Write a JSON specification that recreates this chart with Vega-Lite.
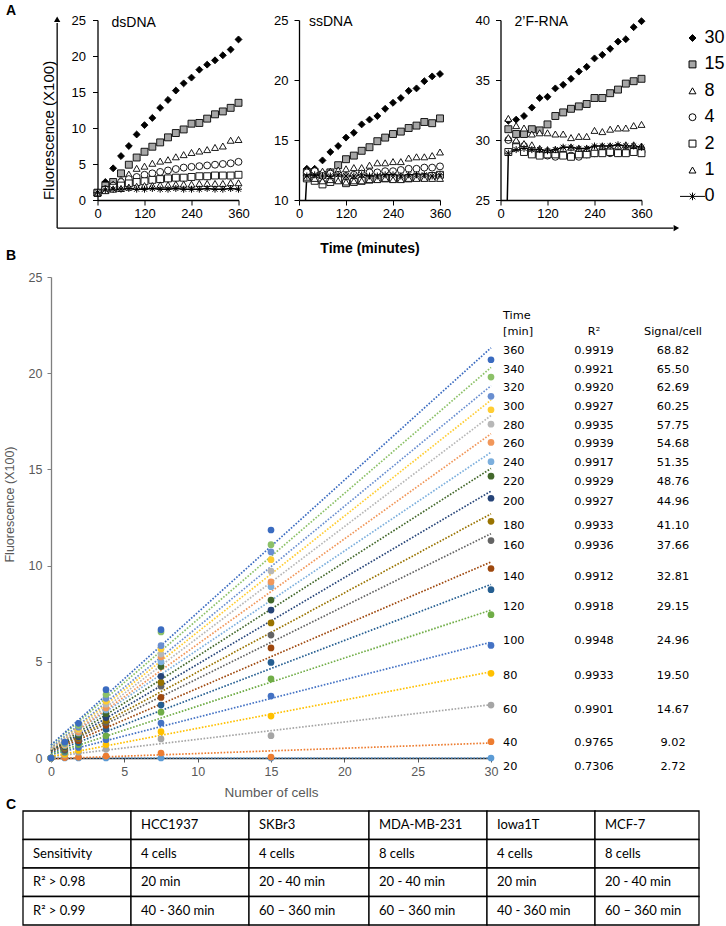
{
"$schema":"https://vega.github.io/schema/vega-lite/v6.json",
"background":"white",
"padding":{"left":3,"top":3,"right":0,"bottom":0},
"config":{"view":{"stroke":null},"font":"Liberation Sans","axis":{"grid":false,"labelOverlap":false,"labelFlush":false},"title":{"font":"Liberation Sans","fontSize":14,"fontWeight":"bold","color":"black","anchor":"start","frame":"group"}},
"datasets":{
"A":[
{"p":"ds","c":"30","t":[0,20,40,60,80,100,120,140,160,180,200,220,240,260,280,300,320,340,360],"v":[1.0,2.5,4.4,6.1,7.5,9.1,10.4,11.4,12.8,13.9,15.2,16.2,17.0,18.1,18.8,19.4,20.1,20.9,22.3]},
{"p":"ds","c":"15","t":[0,20,40,60,80,100,120,140,160,180,200,220,240,260,280,300,320,340,360],"v":[1.0,2.0,2.5,3.7,4.9,5.9,6.7,7.4,8.0,8.7,9.3,9.8,10.6,10.7,11.3,11.9,12.3,12.8,13.5]},
{"p":"ds","c":"8","t":[0,20,40,60,80,100,120,140,160,180,200,220,240,260,280,300,320,340,360],"v":[1.0,1.6,2.2,2.9,3.6,4.4,4.7,5.1,5.4,5.6,6.0,6.3,6.6,6.8,7.0,7.3,7.5,8.3,8.4]},
{"p":"ds","c":"4","t":[0,20,40,60,80,100,120,140,160,180,200,220,240,260,280,300,320,340,360],"v":[1.0,1.5,2.0,2.5,2.9,3.2,3.5,3.7,3.9,4.1,4.3,4.5,4.6,4.7,4.8,4.9,5.0,5.1,5.3]},
{"p":"ds","c":"2","t":[0,20,40,60,80,100,120,140,160,180,200,220,240,260,280,300,320,340,360],"v":[1.0,1.4,1.7,2.0,2.3,2.5,2.6,2.8,2.9,3.0,3.1,3.1,3.2,3.3,3.3,3.4,3.4,3.4,3.5]},
{"p":"ds","c":"1","t":[0,20,40,60,80,100,120,140,160,180,200,220,240,260,280,300,320,340,360],"v":[1.0,1.3,1.5,1.6,1.8,1.9,2.0,2.0,2.1,2.1,2.2,2.2,2.2,2.3,2.3,2.3,2.3,2.4,2.4]},
{"p":"ds","c":"0","t":[0,20,40,60,80,100,120,140,160,180,200,220,240,260,280,300,320,340,360],"v":[1.0,1.4,1.5,1.5,1.6,1.5,1.5,1.6,1.5,1.5,1.6,1.5,1.5,1.5,1.6,1.5,1.5,1.6,1.5]},
{"p":"ss","c":"30","t":[20,40,60,80,100,120,140,160,180,200,220,240,260,280,300,320,340,360],"v":[12.6,12.6,13.3,14.0,14.5,15.2,15.6,16.3,16.7,17.0,17.6,18.1,18.5,19.1,19.3,19.9,20.3,20.5]},
{"p":"ss","c":"15","t":[20,40,60,80,100,120,140,160,180,200,220,240,260,280,300,320,340,360],"v":[12.3,12.3,12.1,12.3,12.9,13.4,13.7,14.1,14.4,14.9,15.2,15.5,15.7,16.0,16.2,16.5,16.4,16.8]},
{"p":"ss","c":"8","t":[20,40,60,80,100,120,140,160,180,200,220,240,260,280,300,320,340,360],"v":[12.5,12.3,12.4,12.4,12.5,12.6,12.7,12.7,12.9,13.1,13.1,13.2,13.2,13.5,13.6,13.6,13.7,14.0]},
{"p":"ss","c":"4","t":[20,40,60,80,100,120,140,160,180,200,220,240,260,280,300,320,340,360],"v":[12.3,12.4,12.0,12.2,12.1,12.0,12.1,12.2,12.3,12.3,12.4,12.4,12.5,12.6,12.6,12.7,12.7,12.8]},
{"p":"ss","c":"2","t":[20,40,60,80,100,120,140,160,180,200,220,240,260,280,300,320,340,360],"v":[11.8,11.6,11.3,11.5,11.7,11.4,11.5,11.6,11.7,11.8,11.8,11.8,11.8,11.8,11.9,11.9,12.0,12.1]},
{"p":"ss","c":"1","t":[20,40,60,80,100,120,140,160,180,200,220,240,260,280,300,320,340,360],"v":[11.9,11.8,11.6,11.7,11.6,11.5,11.6,11.6,11.7,11.7,11.8,11.7,11.7,11.8,11.8,11.8,11.8,11.8]},
{"p":"ss","c":"0","t":[0,20,40,60,80,100,120,140,160,180,200,220,240,260,280,300,320,340,360],"v":[0,12.0,12.1,12.0,12.0,12.1,12.0,12.0,12.1,12.0,12.0,12.1,12.1,12.0,12.1,12.1,12.1,12.0,12.1]},
{"p":"rna","c":"30","t":[20,40,60,80,100,120,140,160,180,200,220,240,260,280,300,320,340,360],"v":[31.6,31.7,32.0,32.7,33.5,33.6,34.3,34.6,35.1,35.7,36.1,36.8,37.1,37.6,38.2,38.4,39.4,39.9]},
{"p":"rna","c":"15","t":[20,40,60,80,100,120,140,160,180,200,220,240,260,280,300,320,340,360],"v":[30.9,30.5,30.5,30.9,30.8,31.3,32.0,32.3,32.6,32.8,33.0,33.5,33.5,33.9,34.2,34.7,34.9,35.1]},
{"p":"rna","c":"8","t":[20,40,60,80,100,120,140,160,180,200,220,240,260,280,300,320,340,360],"v":[31.8,31.2,31.0,30.5,30.6,30.6,30.5,30.5,30.2,30.3,30.3,30.8,30.7,30.9,31.0,31.0,31.2,31.3]},
{"p":"rna","c":"4","t":[20,40,60,80,100,120,140,160,180,200,220,240,260,280,300,320,340,360],"v":[30.0,29.7,29.5,29.2,28.9,28.7,28.6,28.8,28.7,28.6,28.8,28.9,29.0,28.9,28.9,29.0,29.1,29.0]},
{"p":"rna","c":"2","t":[20,40,60,80,100,120,140,160,180,200,220,240,260,280,300,320,340,360],"v":[29.0,29.4,29.0,28.8,28.7,28.8,28.8,28.7,28.6,28.8,28.8,28.9,28.9,29.0,28.9,28.9,29.0,28.9]},
{"p":"rna","c":"1","t":[20,40,60,80,100,120,140,160,180,200,220,240,260,280,300,320,340,360],"v":[30.2,30.0,29.7,29.6,29.3,29.2,29.2,29.3,29.4,29.3,29.3,29.4,29.5,29.5,29.5,29.6,29.6,29.5]},
{"p":"rna","c":"0","t":[0,20,40,60,80,100,120,140,160,180,200,220,240,260,280,300,320,340,360],"v":[0,28.9,29.2,29.3,29.2,29.2,29.1,29.2,29.4,29.4,29.3,29.3,29.5,29.5,29.5,29.6,29.5,29.5,29.4]}
],
"Bpts":[
{"t":"0","n":[0,0.9375,1.875,3.75,7.5,15,30],"v":[0,0,0,0,0,0,0]},
{"t":"20","n":[0,0.9375,1.875,3.75,7.5,15,30],"v":[0,0.02,0.05,0.1,0.26,0.05,0.85]},
{"t":"40","n":[0,0.9375,1.875,3.75,7.5,15,30],"v":[0,0.15,0.3,0.45,0.99,1.16,2.75]},
{"t":"60","n":[0,0.9375,1.875,3.75,7.5,15,30],"v":[0,0.2,0.4,0.7,1.37,2.18,4.4]},
{"t":"80","n":[0,0.9375,1.875,3.75,7.5,15,30],"v":[0,0.3,0.55,0.95,1.82,3.22,5.85]},
{"t":"100","n":[0,0.9375,1.875,3.75,7.5,15,30],"v":[0,0.35,0.7,1.15,2.38,4.11,7.45]},
{"t":"120","n":[0,0.9375,1.875,3.75,7.5,15,30],"v":[0,0.4,0.8,1.5,2.75,4.97,8.75]},
{"t":"140","n":[0,0.9375,1.875,3.75,7.5,15,30],"v":[0,0.45,0.9,1.7,3.15,5.72,9.85]},
{"t":"160","n":[0,0.9375,1.875,3.75,7.5,15,30],"v":[0,0.5,1.0,1.85,3.73,6.39,11.3]},
{"t":"180","n":[0,0.9375,1.875,3.75,7.5,15,30],"v":[0,0.55,1.05,1.95,3.93,7.02,12.3]},
{"t":"200","n":[0,0.9375,1.875,3.75,7.5,15,30],"v":[0,0.6,1.1,2.1,4.25,7.69,13.5]},
{"t":"220","n":[0,0.9375,1.875,3.75,7.5,15,30],"v":[0,0.62,1.2,2.3,4.75,8.21,14.65]},
{"t":"240","n":[0,0.9375,1.875,3.75,7.5,15,30],"v":[0,0.65,1.3,2.5,5.0,8.9,15.4]},
{"t":"260","n":[0,0.9375,1.875,3.75,7.5,15,30],"v":[0,0.68,1.35,2.6,5.25,9.15,16.4]},
{"t":"280","n":[0,0.9375,1.875,3.75,7.5,15,30],"v":[0,0.7,1.45,2.8,5.4,9.72,17.35]},
{"t":"300","n":[0,0.9375,1.875,3.75,7.5,15,30],"v":[0,0.72,1.5,2.95,5.67,10.31,18.1]},
{"t":"320","n":[0,0.9375,1.875,3.75,7.5,15,30],"v":[0,0.75,1.6,3.1,5.84,10.71,18.8]},
{"t":"340","n":[0,0.9375,1.875,3.75,7.5,15,30],"v":[0,0.78,1.7,3.3,6.55,11.09,19.8]},
{"t":"360","n":[0,0.9375,1.875,3.75,7.5,15,30],"v":[0,0.82,1.8,3.55,6.67,11.85,20.7]}
],
"Blines":[
{"t":"0","n":[0,30],"v":[0,0]},
{"t":"20","n":[0,30],"v":[-0.04,0.78]},
{"t":"40","n":[0,30],"v":[0.07,2.77]},
{"t":"60","n":[0,30],"v":[0.08,4.48]},
{"t":"80","n":[0,30],"v":[0.17,6.02]},
{"t":"100","n":[0,30],"v":[0.2,7.69]},
{"t":"120","n":[0,30],"v":[0.28,9.02]},
{"t":"140","n":[0,30],"v":[0.34,10.19]},
{"t":"160","n":[0,30],"v":[0.36,11.66]},
{"t":"180","n":[0,30],"v":[0.36,12.69]},
{"t":"200","n":[0,30],"v":[0.38,13.87]},
{"t":"220","n":[0,30],"v":[0.42,15.05]},
{"t":"240","n":[0,30],"v":[0.49,15.89]},
{"t":"260","n":[0,30],"v":[0.45,16.85]},
{"t":"280","n":[0,30],"v":[0.47,17.8]},
{"t":"300","n":[0,30],"v":[0.52,18.6]},
{"t":"320","n":[0,30],"v":[0.54,19.35]},
{"t":"340","n":[0,30],"v":[0.65,20.3]},
{"t":"360","n":[0,30],"v":[0.68,21.32]}
],
"Blab":[
{"n":30,"v":22.97,"t":"Time","r2":"","s":""},
{"n":30,"v":22.14,"t":"[min]","r2":"R²","s":"Signal/cell"},
{"n":30,"v":21.15,"t":"360","r2":"0.9919","s":"68.82"},
{"n":30,"v":20.17,"t":"340","r2":"0.9921","s":"65.50"},
{"n":30,"v":19.23,"t":"320","r2":"0.9920","s":"62.69"},
{"n":30,"v":18.24,"t":"300","r2":"0.9927","s":"60.25"},
{"n":30,"v":17.26,"t":"280","r2":"0.9935","s":"57.75"},
{"n":30,"v":16.32,"t":"260","r2":"0.9939","s":"54.68"},
{"n":30,"v":15.33,"t":"240","r2":"0.9917","s":"51.35"},
{"n":30,"v":14.35,"t":"220","r2":"0.9929","s":"48.76"},
{"n":30,"v":13.31,"t":"200","r2":"0.9927","s":"44.96"},
{"n":30,"v":12.06,"t":"180","r2":"0.9933","s":"41.10"},
{"n":30,"v":11.02,"t":"160","r2":"0.9936","s":"37.66"},
{"n":30,"v":9.41,"t":"140","r2":"0.9912","s":"32.81"},
{"n":30,"v":7.85,"t":"120","r2":"0.9918","s":"29.15"},
{"n":30,"v":6.08,"t":"100","r2":"0.9948","s":"24.96"},
{"n":30,"v":4.26,"t":"80","r2":"0.9933","s":"19.50"},
{"n":30,"v":2.49,"t":"60","r2":"0.9901","s":"14.67"},
{"n":30,"v":0.78,"t":"40","r2":"0.9765","s":"9.02"},
{"n":30,"v":-0.47,"t":"20","r2":"0.7306","s":"2.72"}
],
"C":[
{"r":0,"c":[0,1,2,3,4,5],"e":[1,2,3,4,5,6],"s":["","HCC1937","SKBr3","MDA-MB-231","Iowa1T","MCF-7"]},
{"r":1,"c":[0,1,2,3,4,5],"e":[1,2,3,4,5,6],"s":["Sensitivity","4 cells","4 cells","8 cells","4 cells","8 cells"]},
{"r":2,"c":[0,1,2,3,4,5],"e":[1,2,3,4,5,6],"s":["R² > 0.98","20 min","20 - 40 min","20 - 40 min","20 min","20 - 40 min"]},
{"r":3,"c":[0,1,2,3,4,5],"e":[1,2,3,4,5,6],"s":["R² > 0.99","40 - 360 min","60 – 360 min","60 – 360 min","40 - 360 min","60 – 360 min"]}
]
},
"spacing":-6,
"vconcat":[
{
"title":{"text":"A","dx":-17,"offset":-3.5},
"bounds":"flush",
"spacing":60.5,
"resolve":{"scale":{"x":"independent","y":"independent","fill":"independent","shape":"independent","stroke":"independent"}},
"hconcat":[
{"width":13.5,"height":1,"data":{"values":[{}]},"mark":{"type":"text","text":""}},
{
"width":141,"height":180,
"data":{"name":"A"},
"encoding":{
"x":{"field":"t","type":"quantitative","scale":{"domain":[0,360],"nice":false,"zero":false},"axis":{"values":[0,120,240,360],"title":null,"labelFontSize":13,"labelColor":"black","domainColor":"black","domainWidth":1.3,"tickColor":"black","tickSize":5,"labelPadding":2}},
"y":{"field":"v","type":"quantitative","scale":{"domain":[0,25],"nice":false,"zero":false},"axis":{"values":[0,5,10,15,20,25],"title":"Fluorescence (X100)","titleFontSize":15,"titleFontWeight":"normal","titleColor":"black","titleX":-41,"titleY":110,"labelFontSize":13,"labelColor":"black","domainColor":"black","domainWidth":1.3,"tickColor":"black","tickSize":5,"labelPadding":7}}
},
"layer":[
{"transform":[{"filter":"datum.p=='ds'"},{"flatten":["t","v"]},{"filter":"datum.c=='0'"}],"mark":{"type":"line","color":"black","strokeWidth":1.5}},
{"transform":[{"filter":"datum.p=='ds'"},{"flatten":["t","v"]},{"filter":"datum.c!='0'"}],"mark":{"type":"point","filled":true,"strokeWidth":0.9,"size":48,"opacity":1},
"encoding":{
"shape":{"field":"c","type":"nominal","scale":{"domain":["30","15","8","4","2","1","0"],"range":["diamond","square","triangle-up","circle","square","triangle-up","M-3.6,0H3.6M-0.8,-0.8L0.8,0.8M-0.8,0.8L0.8,-0.8M0,-1.1V1.1"]},"legend":null},
"fill":{"field":"c","type":"nominal","scale":{"domain":["30","15","8","4","2","1","0"],"range":["#000000","#A6A6A6","#ffffff","#ffffff","#ffffff","#ffffff","#000000"]},"legend":null},
"stroke":{"field":"c","type":"nominal","scale":{"domain":["30","15","8","4","2","1","0"],"range":["#000000","#000000","#000000","#000000","#000000","#000000","#000000"]},"legend":null}}},
{"transform":[{"filter":"datum.p=='ds'"},{"flatten":["t","v"]},{"filter":"datum.c=='0'"}],"mark":{"type":"point","shape":"M-0.8,-0.8L0.8,0.8M-0.8,0.8L0.8,-0.8M0,-1.1V1.1M-1.1,0H1.1","filled":false,"stroke":"black","strokeWidth":1,"size":40,"opacity":1}},
{"data":{"values":[{"t":-103,"v":-3.9,"v2":24.6}]},"mark":{"type":"rule","color":"black","strokeWidth":1.3},"encoding":{"y2":{"field":"v2"}}},
{"data":{"values":[{"t":-103,"v":-3.9,"t2":1470}]},"mark":{"type":"rule","color":"black","strokeWidth":1.3},"encoding":{"x2":{"field":"t2"}}},
{"data":{"values":[{"t":-103,"v":25.1}]},"mark":{"type":"point","shape":"triangle-up","filled":true,"color":"black","size":40,"opacity":1}},
{"data":{"values":[{"t":1478,"v":-3.9}]},"mark":{"type":"point","shape":"triangle-right","filled":true,"color":"black","size":40,"opacity":1}},
{"data":{"values":[{"t":0,"v":25}]},"mark":{"type":"text","text":"dsDNA","align":"left","baseline":"middle","fontSize":14,"dx":14,"dy":3,"color":"black"}}
]
},
{
"width":141,"height":180,
"data":{"name":"A"},
"encoding":{
"x":{"field":"t","type":"quantitative","scale":{"domain":[0,360],"nice":false,"zero":false},"axis":{"values":[0,120,240,360],"title":"Time (minutes)","titleFontSize":14,"titleFontWeight":"bold","titleColor":"black","titleY":41,"titleBaseline":"top","labelFontSize":13,"labelColor":"black","domainColor":"black","domainWidth":1.3,"tickColor":"black","tickSize":5,"labelPadding":2}},
"y":{"field":"v","type":"quantitative","scale":{"domain":[10,25],"nice":false,"zero":false},"axis":{"values":[10,15,20,25],"title":null,"labelFontSize":13,"labelColor":"black","domainColor":"black","domainWidth":1.3,"tickColor":"black","tickSize":5,"labelPadding":6}}
},
"layer":[
{"transform":[{"filter":"datum.p=='ss'"},{"flatten":["t","v"]},{"filter":"datum.c=='0'"}],"mark":{"type":"line","color":"black","strokeWidth":1.5,"clip":true}},
{"transform":[{"filter":"datum.p=='ss'"},{"flatten":["t","v"]},{"filter":"datum.c!='0'"}],"mark":{"type":"point","filled":true,"strokeWidth":0.9,"size":48,"opacity":1},
"encoding":{
"shape":{"field":"c","type":"nominal","scale":{"domain":["30","15","8","4","2","1","0"],"range":["diamond","square","triangle-up","circle","square","triangle-up","M-3.6,0H3.6M-0.8,-0.8L0.8,0.8M-0.8,0.8L0.8,-0.8M0,-1.1V1.1"]},"legend":null},
"fill":{"field":"c","type":"nominal","scale":{"domain":["30","15","8","4","2","1","0"],"range":["#000000","#A6A6A6","#ffffff","#ffffff","#ffffff","#ffffff","#000000"]},"legend":null},
"stroke":{"field":"c","type":"nominal","scale":{"domain":["30","15","8","4","2","1","0"],"range":["#000000","#000000","#000000","#000000","#000000","#000000","#000000"]},"legend":null}}},
{"transform":[{"filter":"datum.p=='ss'"},{"flatten":["t","v"]},{"filter":"datum.c=='0' && datum.v>=10"}],"mark":{"type":"point","shape":"M-0.8,-0.8L0.8,0.8M-0.8,0.8L0.8,-0.8M0,-1.1V1.1M-1.1,0H1.1","filled":false,"stroke":"black","strokeWidth":1,"size":40,"opacity":1}},
{"data":{"values":[{"t":0,"v":25}]},"mark":{"type":"text","text":"ssDNA","align":"left","baseline":"middle","fontSize":14,"dx":10,"dy":2,"color":"black"}}
]
},
{
"width":141,"height":180,
"data":{"name":"A"},
"encoding":{
"x":{"field":"t","type":"quantitative","scale":{"domain":[0,360],"nice":false,"zero":false},"axis":{"values":[0,120,240,360],"title":null,"labelFontSize":13,"labelColor":"black","domainColor":"black","domainWidth":1.3,"tickColor":"black","tickSize":5,"labelPadding":2}},
"y":{"field":"v","type":"quantitative","scale":{"domain":[25,40],"nice":false,"zero":false},"axis":{"values":[25,30,35,40],"title":null,"labelFontSize":13,"labelColor":"black","domainColor":"black","domainWidth":1.3,"tickColor":"black","tickSize":5,"labelPadding":6}}
},
"layer":[
{"transform":[{"filter":"datum.p=='rna'"},{"flatten":["t","v"]},{"filter":"datum.c=='0'"}],"mark":{"type":"line","color":"black","strokeWidth":1.5,"clip":true}},
{"transform":[{"filter":"datum.p=='rna'"},{"flatten":["t","v"]},{"filter":"datum.c!='0'"}],"mark":{"type":"point","filled":true,"strokeWidth":0.9,"size":48,"opacity":1},
"encoding":{
"shape":{"field":"c","type":"nominal","scale":{"domain":["30","15","8","4","2","1","0"],"range":["diamond","square","triangle-up","circle","square","triangle-up","M-3.6,0H3.6M-0.8,-0.8L0.8,0.8M-0.8,0.8L0.8,-0.8M0,-1.1V1.1"]},"legend":{"orient":"none","legendX":183,"legendY":9,"title":null,"labelFontSize":18,"labelColor":"black","labelFont":"Liberation Sans","rowPadding":8.4,"symbolSize":48,"symbolStrokeWidth":1,"labelOffset":3,"padding":0}},
"fill":{"field":"c","type":"nominal","scale":{"domain":["30","15","8","4","2","1","0"],"range":["#000000","#A6A6A6","#ffffff","#ffffff","#ffffff","#ffffff","#000000"]},"legend":{"orient":"none","legendX":183,"legendY":9,"title":null,"labelFontSize":18,"labelColor":"black","labelFont":"Liberation Sans","rowPadding":8.4,"symbolSize":48,"symbolStrokeWidth":1,"labelOffset":3,"padding":0}},
"stroke":{"field":"c","type":"nominal","scale":{"domain":["30","15","8","4","2","1","0"],"range":["#000000","#000000","#000000","#000000","#000000","#000000","#000000"]},"legend":{"orient":"none","legendX":183,"legendY":9,"title":null,"labelFontSize":18,"labelColor":"black","labelFont":"Liberation Sans","rowPadding":8.4,"symbolSize":48,"symbolStrokeWidth":1,"labelOffset":3,"padding":0}}}},
{"transform":[{"filter":"datum.p=='rna'"},{"flatten":["t","v"]},{"filter":"datum.c=='0' && datum.v>=25"}],"mark":{"type":"point","shape":"M-0.8,-0.8L0.8,0.8M-0.8,0.8L0.8,-0.8M0,-1.1V1.1M-1.1,0H1.1","filled":false,"stroke":"black","strokeWidth":1,"size":40,"opacity":1}},
{"data":{"values":[{"t":0,"v":40}]},"mark":{"type":"text","text":"2’F-RNA","align":"left","baseline":"middle","fontSize":14,"dx":14,"dy":2,"color":"black"}}
]
}
]
},
{
"spacing":-1,
"vconcat":[
{
"title":{"text":"B","dx":-17,"offset":8},
"bounds":"flush",
"spacing":27,
"hconcat":[
{"width":1,"height":1,"data":{"values":[{}]},"mark":{"type":"text","text":""}},
{
"width":440,"height":481,
"encoding":{
"x":{"field":"n","type":"quantitative","scale":{"domain":[0,30],"nice":false,"zero":false},"axis":{"values":[0,5,10,15,20,25,30],"title":"Number of cells","titleFontSize":13.5,"titleFontWeight":"normal","titleColor":"#595959","titleY":27,"titleBaseline":"top","labelColor":"#595959","labelFontSize":12.5,"domainColor":"#262626","domainWidth":1.3,"tickColor":"#595959","tickSize":4,"labelPadding":3}},
"y":{"field":"v","type":"quantitative","scale":{"domain":[0,25],"nice":false,"zero":false},"axis":{"values":[0,5,10,15,20,25],"title":"Fluorescence (X100)","titleFontSize":12.5,"titleFontWeight":"normal","titleColor":"#595959","titleX":-35,"titleY":227,"labelColor":"#595959","labelFontSize":12.5,"domainColor":"#7f7f7f","domainWidth":1.3,"tickColor":"#7f7f7f","tickSize":4,"labelPadding":5}}
},
"layer":[
{"data":{"name":"Blines"},"transform":[{"flatten":["n","v"]}],"mark":{"type":"line","strokeDash":[1.6,1.6],"strokeWidth":1.7},
"encoding":{"color":{"field":"t","type":"nominal","scale":{"domain":["0","20","40","60","80","100","120","140","160","180","200","220","240","260","280","300","320","340","360"],"range":["#5B9BD5","#ED7D31","#A5A5A5","#FFC000","#4472C4","#70AD47","#255E91","#9E480E","#636363","#997300","#264478","#43682B","#7CAFDD","#F1975A","#B7B7B7","#FFCD33","#698ED0","#8CC168","#3A6BC0"]},"legend":null}}},
{"data":{"name":"Bpts"},"transform":[{"flatten":["n","v"]}],"mark":{"type":"point","filled":true,"size":45,"opacity":1},
"encoding":{"color":{"field":"t","type":"nominal","scale":{"domain":["0","20","40","60","80","100","120","140","160","180","200","220","240","260","280","300","320","340","360"],"range":["#5B9BD5","#ED7D31","#A5A5A5","#FFC000","#4472C4","#70AD47","#255E91","#9E480E","#636363","#997300","#264478","#43682B","#7CAFDD","#F1975A","#B7B7B7","#FFCD33","#698ED0","#8CC168","#3A6BC0"]},"legend":null}}},
{"data":{"name":"Blab"},"mark":{"type":"text","align":"left","baseline":"middle","dx":12,"font":"DejaVu Sans","fontSize":11.3,"color":"black"},"encoding":{"text":{"field":"t"}}},
{"data":{"name":"Blab"},"mark":{"type":"text","align":"center","baseline":"middle","dx":103,"font":"DejaVu Sans","fontSize":11.3,"color":"black"},"encoding":{"text":{"field":"r2"}}},
{"data":{"name":"Blab"},"mark":{"type":"text","align":"center","baseline":"middle","dx":182,"font":"DejaVu Sans","fontSize":11.3,"color":"black"},"encoding":{"text":{"field":"s"}}}
]
}
]
},
{
"width":676,"height":114,
"title":{"text":"C","dx":-17,"offset":-2},
"data":{"name":"C"},
"transform":[{"flatten":["c","e","s"]}],
"encoding":{
"x":{"field":"c","type":"quantitative","scale":{"domain":[0,1,2,3,4,5,6],"range":[0,108,226,346,464,572,676],"nice":false,"zero":false},"axis":null},
"y":{"field":"r","type":"ordinal","scale":{"paddingInner":0,"paddingOuter":0},"axis":null}
},
"layer":[
{"mark":{"type":"rect","fill":"white","stroke":"black","strokeWidth":1.3},"encoding":{"x2":{"field":"e"}}},
{"mark":{"type":"text","align":"left","baseline":"middle","dx":10,"font":"Lato","fontSize":13,"color":"black"},"encoding":{"text":{"field":"s"}}}
]
}
]
}
]
}
